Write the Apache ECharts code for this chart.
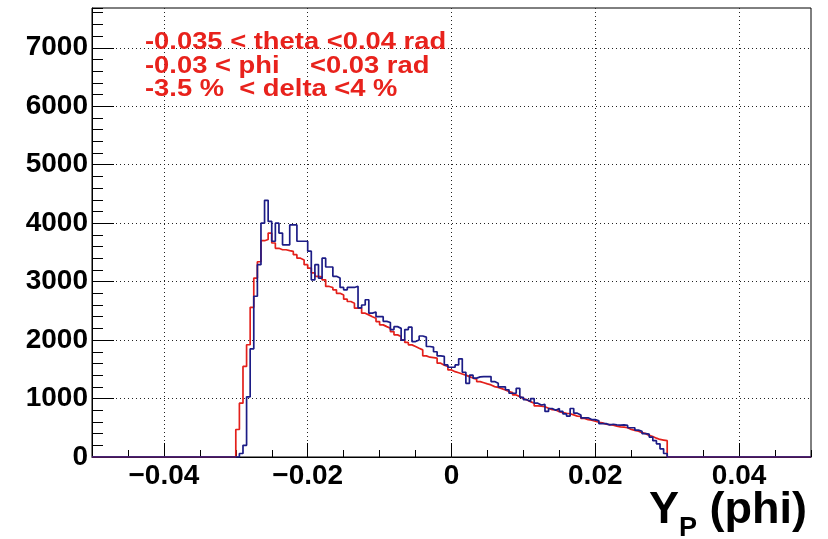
<!DOCTYPE html>
<html>
<head>
<meta charset="utf-8">
<script src="https://cdn.jsdelivr.net/npm/echarts@6/dist/echarts.min.js"></script>
<style>
html,body{margin:0;padding:0;background:#fff;}
#chart{width:828px;height:539px;}
</style>
</head>
<body>
<div id="chart"></div>
<script>
// Histogram binning (Y_P in rad)
const binWidth = 0.0005;
const firstEdge = -0.03;
const xMin = -0.05, xMax = 0.05;
const yMax = 7680;

// Tick labels
const xTicks = [-0.04, -0.02, 0, 0.02, 0.04];
const yTicks = [0, 1000, 2000, 3000, 4000, 5000, 6000, 7000];

// Red histogram (bins from -0.03 to 0.03, width 0.0005)
const redCounts = [
  470, 920, 1550, 1920, 2560, 3060, 3340, 3700, 3720, 3830,
  3660, 3570, 3545, 3545, 3530, 3516, 3460, 3400, 3370, 3290,
  3230, 3150, 3090, 3080, 3030, 2917, 2900, 2860, 2800, 2770,
  2700, 2660, 2631, 2546, 2546, 2460, 2431, 2400, 2374, 2317,
  2260, 2230, 2203, 2146, 2089, 2060, 2003, 1960, 1918, 1890,
  1860, 1832, 1730, 1707, 1700, 1690, 1604, 1570, 1547, 1490,
  1460, 1440, 1420, 1400, 1375, 1350, 1330, 1290, 1270, 1250,
  1233, 1204, 1190, 1170, 1147, 1120, 1101, 1062, 1033, 1000,
  976, 947, 919, 873, 870, 860, 833, 810, 805, 776,
  759, 748, 740, 720, 700, 695, 660, 640, 630, 611,
  595, 583, 560, 555, 545, 528, 515, 510, 500, 472,
  455, 440, 417, 400, 370, 350, 322, 300, 290, 280
];

// Blue histogram (same binning)
const blueCounts = [
  0, 60, 200, 1030, 1850, 2750, 3290, 4000, 4390, 4030,
  3690, 4000, 3830, 3630, 3630, 3970, 3970, 3690, 3690, 3690,
  3520, 3030, 3290, 3060, 3400, 3250, 3250, 3090, 3060, 2900,
  2860, 2900, 2900, 2920, 2550, 2600, 2690, 2460, 2480, 2400,
  2400, 2320, 2300, 2180, 2230, 2200, 2000, 2180, 2220, 1975,
  2000, 2070, 2050, 1890, 1880, 1800, 1730, 1720, 1575, 1535,
  1535, 1575, 1680, 1450, 1260, 1400, 1350, 1370, 1375, 1375,
  1375, 1290, 1260, 1200, 1200, 1150, 1090, 1090, 1175, 1020,
  980, 950, 1000, 920, 890, 900, 780, 830, 800, 830,
  780, 736, 700, 830, 750, 720, 670, 670, 640, 640,
  620, 570, 570, 550, 560, 550, 545, 550, 540, 500,
  500, 460, 440, 400, 390, 340, 280, 225, 140, 60
];

const annotationLines = [
  '-0.035 < theta <0.04 rad',
  '-0.03 < phi    <0.03 rad',
  '-3.5 %  < delta <4 %'
];

function histPoints(counts) {
  const pts = [[xMin, 0]];
  for (let i = 0; i < counts.length; i++) {
    pts.push([firstEdge + i * binWidth, counts[i]]);
  }
  pts.push([firstEdge + counts.length * binWidth, 0]);
  pts.push([xMax, 0]);
  return pts;
}

const FONT = 'Liberation Sans, Arial, Helvetica, sans-serif';
const gridLine = { show: true, lineStyle: { color: '#222', width: 1, type: [1, 3] } };

function fmtX(v) {
  if (Math.abs(v) < 1e-12) return '0';
  const s = Math.abs(v).toFixed(2);
  return v < 0 ? '\u2212' + s : s;
}
function fmtY(v) { return String(Math.round(v)); }

const chart = echarts.init(document.getElementById('chart'), null, { renderer: 'canvas' });
chart.setOption({
  animation: false,
  backgroundColor: '#ffffff',
  grid: { left: 92, right: 17, top: 8, bottom: 82, show: true, borderColor: '#000', borderWidth: 1 },
  title: {
    text: '{a|Y}{b|P}{a| (phi)}',
    right: 16, top: 483,
    textStyle: {
      rich: {
        a: { fontFamily: FONT, fontWeight: 'bold', fontSize: 45, color: '#000', verticalAlign: 'bottom' },
        b: { fontFamily: FONT, fontWeight: 'bold', fontSize: 27, color: '#000', verticalAlign: 'bottom', padding: [0, 0, -9, 0] }
      }
    }
  },
  xAxis: [
    {
      type: 'value', min: xMin, max: xMax, interval: 0.005, position: 'bottom',
      axisLine: { show: true, onZero: false, lineStyle: { color: '#000', width: 1 } },
      axisTick: { show: true, inside: true, length: 7, lineStyle: { color: '#000' } },
      axisLabel: { show: false }, splitLine: { show: false }
    },
    {
      type: 'value', min: xMin, max: xMax, position: 'bottom',
      axisLine: { show: false, onZero: false },
      axisTick: { show: true, inside: true, length: 14, customValues: xTicks, lineStyle: { color: '#000' } },
      axisLabel: { show: true, customValues: xTicks, formatter: fmtX, fontFamily: FONT, fontWeight: 'bold', fontSize: 28, color: '#000', margin: 5 },
      splitLine: gridLine
    }
  ],
  yAxis: [
    {
      type: 'value', min: 0, max: yMax, interval: 200, position: 'left',
      axisLine: { show: true, onZero: false, lineStyle: { color: '#000', width: 1 } },
      axisTick: { show: true, inside: true, length: 11, lineStyle: { color: '#000' } },
      axisLabel: { show: false }, splitLine: { show: false }
    },
    {
      type: 'value', min: 0, max: yMax, position: 'left',
      axisLine: { show: false, onZero: false },
      axisTick: { show: true, inside: true, length: 22, customValues: yTicks, lineStyle: { color: '#000' } },
      axisLabel: { show: true, customValues: yTicks, formatter: fmtY, fontFamily: FONT, fontWeight: 'bold', fontSize: 28, color: '#000', margin: 4 },
      splitLine: gridLine
    }
  ],
  series: [
    {
      type: 'line', name: 'red', xAxisIndex: 0, yAxisIndex: 0, step: 'end', symbol: 'none',
      data: histPoints(redCounts), lineStyle: { color: '#e3201b', width: 1.7 }, z: 3
    },
    {
      type: 'line', name: 'blue', xAxisIndex: 0, yAxisIndex: 0, step: 'end', symbol: 'none',
      data: histPoints(blueCounts), lineStyle: { color: '#1c1c86', width: 1.7 }, z: 4
    }
  ],
  graphic: [
    {
      type: 'text', x: 145, y: 31, scaleX: 1.14, z: 10,
      style: {
        text: annotationLines.join('\n'),
        fill: '#e8221c',
        font: 'bold 24px ' + FONT,
        lineHeight: 23.5
      }
    }
  ]
});
</script>
</body>
</html>
